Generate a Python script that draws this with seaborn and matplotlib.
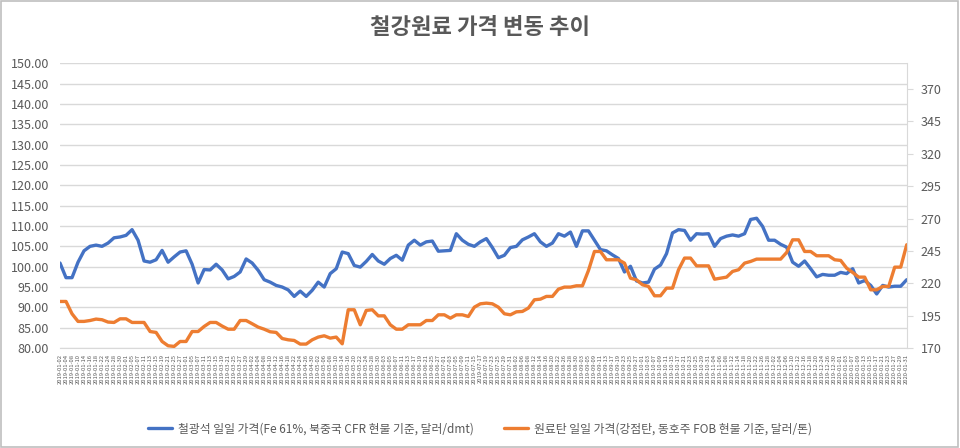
import pandas as pd
import seaborn as sns
import matplotlib.pyplot as plt
import matplotlib.ticker as ticker
from matplotlib.patches import Rectangle

# 철광석 (Fe 61%, CFR, $/dmt) - left axis
iron_ore = [
    100.9, 97.3, 97.3, 101.1, 103.9, 105.0, 105.3, 105.0, 105.8, 107.1, 107.3, 107.7,
    109.1, 106.5, 101.4, 101.1, 101.7, 104.0, 101.1, 102.4, 103.6, 103.9, 100.6, 96.0,
    99.3, 99.2, 100.6, 99.2, 97.0, 97.6, 98.7, 101.9, 100.9, 99.1, 96.8, 96.2,
    95.4, 95.0, 94.3, 92.7, 94.0, 92.7, 94.2, 96.2, 95.0, 98.3, 99.5, 103.6,
    103.2, 100.3, 99.9, 101.3, 103.0, 101.4, 100.6, 102.0, 102.8, 101.6, 105.3, 106.5,
    105.3, 106.1, 106.3, 103.8, 103.9, 104.0, 108.1, 106.5, 105.5, 105.0, 106.1, 106.9,
    104.7, 102.2, 102.8, 104.7, 105.0, 106.6, 107.3, 108.1, 106.1, 105.0, 105.8, 108.1,
    107.5, 108.5, 105.0, 108.8, 108.8, 106.5, 104.2, 103.9, 102.9, 102.0, 98.7,
    100.1, 96.5, 96.0, 96.2, 99.4, 100.4, 103.2, 108.3, 109.1, 108.9, 106.5, 108.1,
    108.0, 108.1, 105.0, 106.9, 107.5, 107.8, 107.5, 108.1, 111.6, 111.9, 109.9, 106.5,
    106.5, 105.5, 104.8, 101.1, 100.1, 101.4, 99.5, 97.5, 98.1, 97.9, 97.9, 98.6,
    98.3, 99.5, 96.0, 96.6, 95.4, 93.3, 95.4, 95.0, 95.2, 95.2, 96.8,
]

# 원료탄 (강점탄, FOB, $/톤) - right axis
coking_coal = [
    206.0, 206.0, 196.5, 190.6, 190.6, 191.3, 192.4, 191.9, 190.1, 189.8, 192.6, 192.6,
    189.8, 189.8, 189.8, 182.8, 182.1, 175.1, 171.8, 171.3, 175.1, 175.1, 182.8, 182.8,
    186.7, 189.8, 189.8, 187.0, 184.6, 184.6, 191.3, 191.3, 188.8, 186.2, 184.6, 182.6,
    182.1, 177.4, 176.4, 175.9, 173.1, 173.1, 176.4, 178.5, 179.5, 177.7, 178.5, 173.3,
    199.6, 199.6, 188.0, 199.1, 199.6, 194.9, 194.9, 188.0, 184.6, 184.6, 188.0, 188.0,
    188.0, 191.3, 191.3, 195.7, 195.7, 193.1, 195.7, 195.7, 194.4, 201.6, 204.2, 204.7,
    204.2, 201.6, 196.5, 195.7, 198.0, 198.3, 200.9, 207.3, 207.8, 209.9, 209.9, 215.5,
    217.1, 217.1, 218.1, 218.1, 229.9, 244.6, 244.6, 238.2, 238.2, 238.2, 235.6,
    224.0, 222.7, 218.9, 217.6, 210.4, 210.4, 216.3, 216.3, 230.5, 239.5, 239.5, 233.5,
    233.5, 233.5, 223.2, 224.0, 224.8, 229.2, 230.5, 235.6, 236.9, 238.7, 238.7, 238.7,
    238.7, 238.7, 243.8, 253.6, 253.6, 244.6, 244.6, 241.3, 241.3, 241.3, 238.2, 237.7,
    231.7, 228.4, 224.8, 224.8, 215.0, 215.0, 217.6, 217.6, 232.5, 232.5, 249.8,
]

dates = pd.bdate_range("2019-01-02", periods=len(iron_ore), freq="2B").strftime("%Y-%m-%d")

df = pd.DataFrame({"idx": range(len(iron_ore)), "iron": iron_ore, "coal": coking_coal})

sns.set_style("white")
plt.rcParams['font.family'] = ['Noto Sans CJK KR', 'DejaVu Sans']

gray = "#595959"
grid = "#D9D9D9"
blue = "#4472C4"
orange = "#ED7D31"

fig = plt.figure(figsize=(9.6, 4.48), dpi=100)
ax = fig.add_axes([0.0625, 0.223, 0.882, 0.636])
ax2 = ax.twinx()

sns.lineplot(x="idx", y="iron", data=df, ax=ax, color=blue, linewidth=2.4,
             label="철광석 일일 가격(Fe 61%, 북중국 CFR 현물 기준, 달러/dmt)", legend=False)
sns.lineplot(x="idx", y="coal", data=df, ax=ax2, color=orange, linewidth=2.4,
             label="원료탄 일일 가격(강점탄, 동호주 FOB 현물 기준, 달러/톤)", legend=False)

ax.set_xlim(0, len(iron_ore) - 1)
ax.set_ylim(80, 150)
ax.yaxis.set_major_locator(ticker.MultipleLocator(5))
ax.yaxis.set_major_formatter(ticker.StrMethodFormatter('{x:.2f}'))
ax2.set_ylim(170, 390)
ax2.set_yticks(range(170, 371, 25))

ax.grid(axis='y', color=grid, linewidth=1)
ax.set_axisbelow(True)
for a in (ax, ax2):
    for s in a.spines.values():
        s.set_visible(False)
    a.set_xlabel("")
    a.set_ylabel("")
ax2.spines['right'].set_visible(True)
ax2.spines['right'].set_color(grid)
ax.spines['bottom'].set_visible(True)
ax.spines['bottom'].set_color(grid)

ax.set_xticks(range(len(dates)))
ax.set_xticklabels(dates, rotation=90, fontsize=4.2, color=gray)
ax.tick_params(axis='x', length=0, pad=4)
ax.tick_params(axis='y', length=0, labelsize=9, colors=gray, pad=8)
ax2.tick_params(axis='y', length=4, color=grid, labelsize=9, colors=gray, pad=6)

fig.text(0.5, 0.9375, "철강원료 가격 변동 추이", ha='center', va='center',
         fontsize=16, fontweight='bold', color=gray)

h1, l1 = ax.get_legend_handles_labels()
h2, l2 = ax2.get_legend_handles_labels()
fig.legend(h1 + h2, l1 + l2, loc='lower center', bbox_to_anchor=(0.5, 0.005), ncol=2,
           frameon=False, fontsize=8.5, labelcolor=gray, handlelength=2.0,
           handletextpad=0.5, columnspacing=2.6)

fig.patches.append(Rectangle((0.001, 0.002), 0.997, 0.995, transform=fig.transFigure,
                             fill=False, edgecolor="#BFBFBF", linewidth=1.2))

plt.savefig("out.png", dpi=100)
